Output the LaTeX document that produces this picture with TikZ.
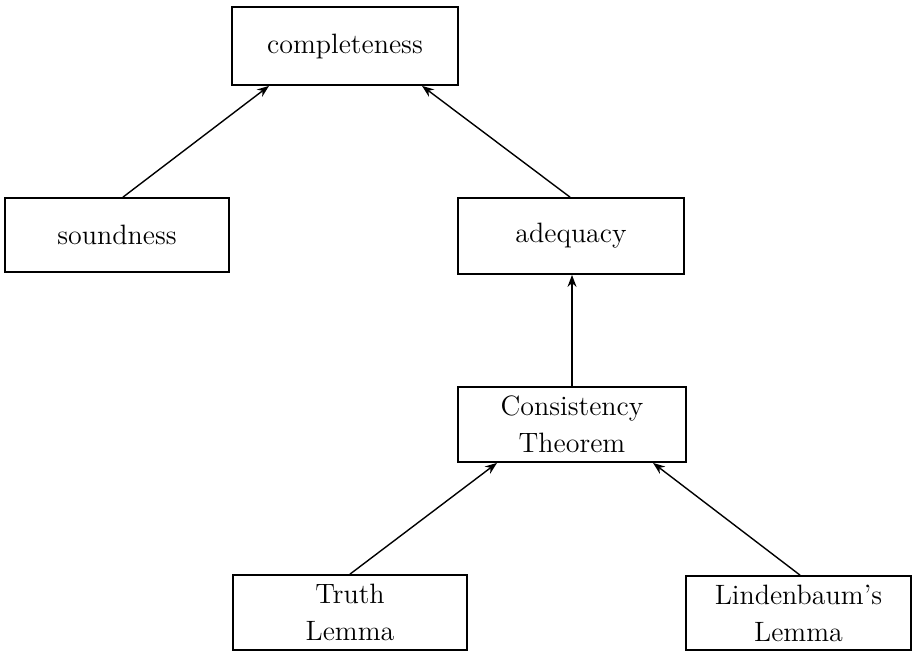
\documentclass[tikz,border=0pt]{standalone}
\usetikzlibrary{arrows.meta,calc}
\begin{document}
\begin{tikzpicture}[x=0.5pt,y=-0.5pt,
  lemmabox/.style={draw,line width=0.9pt,inner sep=0pt,align=center,
    font=\fontsize{14}{18.5}\selectfont},
  implies/.style={line width=0.7pt,-{Stealth[length=6pt,width=4.5pt]}}]
  \useasboundingbox (0,0) rectangle (914,654);
  % boxes (centre, width, height in picture units)
  \node[lemmabox,minimum width=113pt,minimum height=39pt] (comp) at (345,46) {completeness};
  \node[lemmabox,minimum width=112pt,minimum height=37pt] (sound) at (117,235) {soundness};
  \node[lemmabox,minimum width=113pt,minimum height=38pt] (adeq) at (571,236) {adequacy};
  \node[lemmabox,minimum width=114pt,minimum height=37.5pt] (cons) at (572,424.5) {Consistency\\Theorem};
  \node[lemmabox,minimum width=117pt,minimum height=37.5pt] (truth) at (350,612.5) {Truth\\Lemma};
  \node[lemmabox,minimum width=112.5pt,minimum height=37pt] (linden) at (798.5,613) {Lindenbaum's\\Lemma};
  % implications
  \draw[implies] ($(sound.north)+(6,0)$) -- ($(comp.south)+(-76,0)$);
  \draw[implies] ($(adeq.north)+(-1,0)$) -- ($(comp.south)+(77,0)$);
  \draw[implies] (cons.north) -- (cons.north |- adeq.south);
  \draw[implies] (truth.north) -- ($(cons.south)+(-75,0)$);
  \draw[implies] ($(linden.north)+(1.5,0)$) -- ($(cons.south)+(81,0)$);
\end{tikzpicture}
\end{document}
